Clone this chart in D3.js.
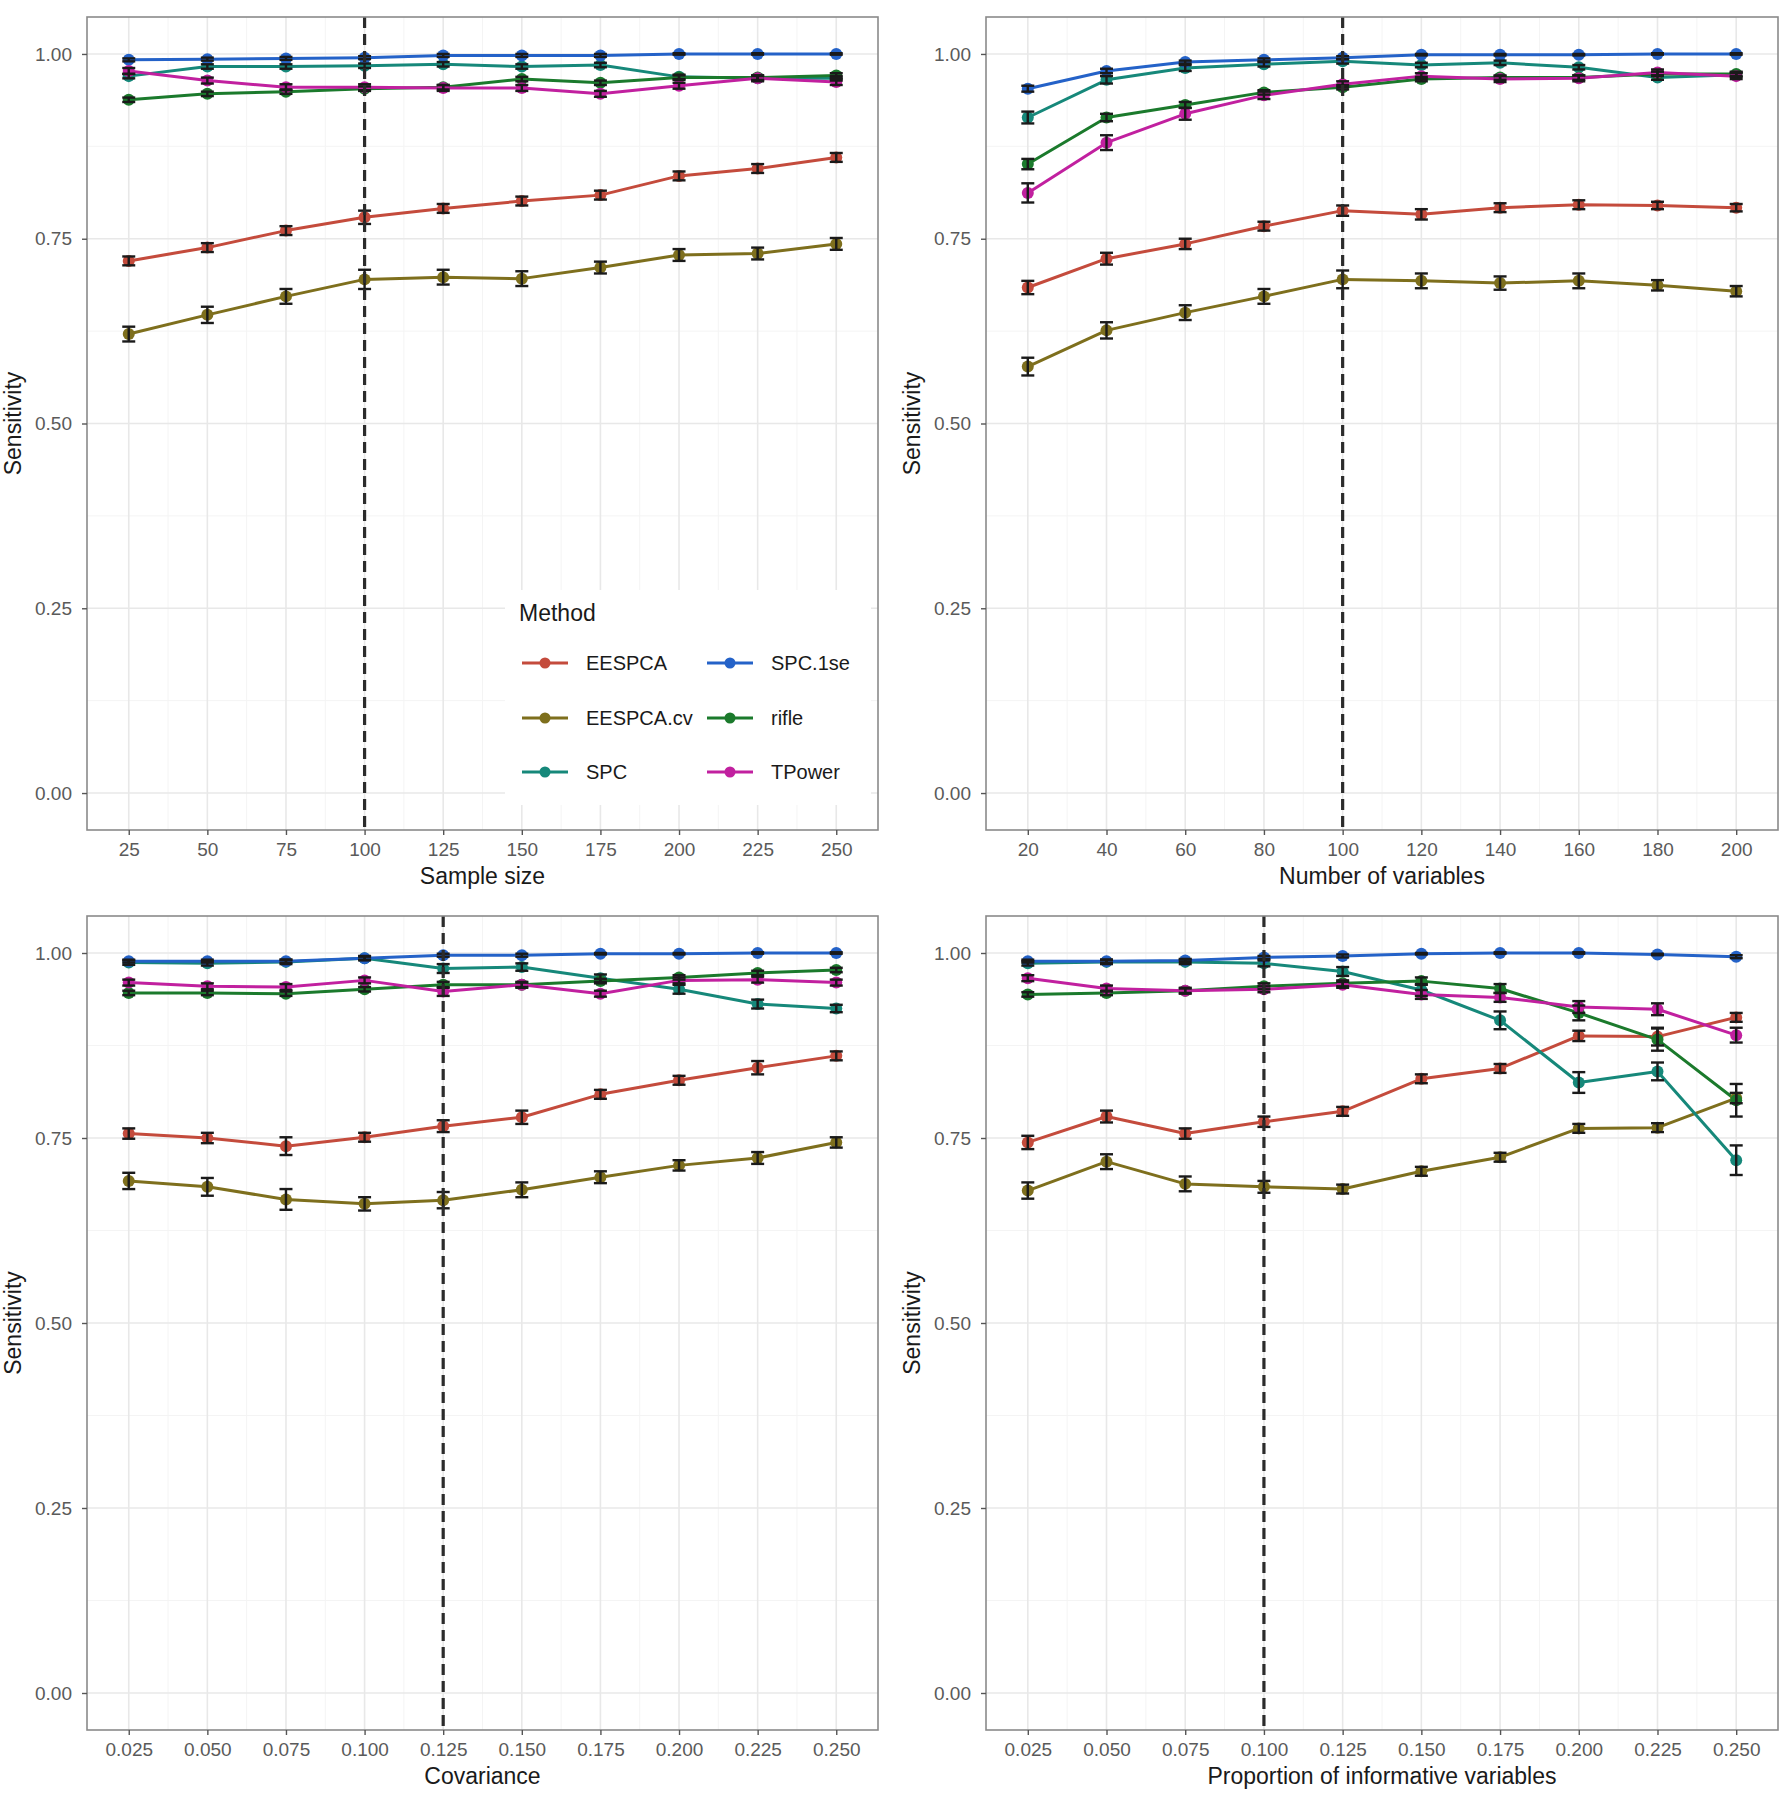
<!DOCTYPE html>
<html><head><meta charset="utf-8">
<script src="https://cdn.jsdelivr.net/npm/d3@7"></script>
<style>body{margin:0;background:#fff}</style></head>
<body>
<svg id="c" width="1782" height="1800"></svg>
<script>
// ---------- DATA ----------
const methods = ["EESPCA", "EESPCA.cv", "SPC", "SPC.1se", "rifle", "TPower"];
const methodColors = ["#C44B3C", "#7E6F1D", "#16887A", "#2462C8", "#1B7A2C", "#C1209F"];

const yTicks = [0, 0.25, 0.5, 0.75, 1.0];

// Panel 1: Sample size
const sampleSizeX = [25, 50, 75, 100, 125, 150, 175, 200, 225, 250];
const sampleSizeRef = 100;
const sampleSizeMean = {
  "EESPCA":    [0.720, 0.738, 0.761, 0.779, 0.791, 0.801, 0.809, 0.835, 0.845, 0.860],
  "EESPCA.cv": [0.621, 0.647, 0.672, 0.695, 0.698, 0.696, 0.711, 0.728, 0.730, 0.743],
  "SPC":       [0.970, 0.983, 0.983, 0.984, 0.986, 0.983, 0.985, 0.969, 0.967, 0.967],
  "SPC.1se":   [0.992, 0.993, 0.994, 0.995, 0.998, 0.998, 0.998, 1.000, 1.000, 1.000],
  "rifle":     [0.938, 0.946, 0.949, 0.953, 0.955, 0.966, 0.961, 0.968, 0.968, 0.971],
  "TPower":    [0.977, 0.964, 0.955, 0.955, 0.954, 0.954, 0.946, 0.957, 0.967, 0.962]
};
const sampleSizeErr = {
  "EESPCA":    [0.006, 0.006, 0.006, 0.009, 0.006, 0.006, 0.006, 0.006, 0.006, 0.006],
  "EESPCA.cv": [0.010, 0.011, 0.010, 0.013, 0.010, 0.010, 0.008, 0.008, 0.008, 0.008],
  "SPC":       [0.003, 0.003, 0.003, 0.003, 0.003, 0.003, 0.003, 0.003, 0.003, 0.003],
  "SPC.1se":   [0.002, 0.002, 0.002, 0.002, 0.002, 0.002, 0.002, 0.001, 0.001, 0.001],
  "rifle":     [0.003, 0.003, 0.003, 0.003, 0.003, 0.003, 0.003, 0.003, 0.003, 0.003],
  "TPower":    [0.004, 0.004, 0.004, 0.004, 0.004, 0.004, 0.004, 0.004, 0.004, 0.004]
};

// Panel 2: Number of variables
const numVarsX = [20, 40, 60, 80, 100, 120, 140, 160, 180, 200];
const numVarsRef = 100;
const numVarsMean = {
  "EESPCA":    [0.684, 0.723, 0.743, 0.767, 0.788, 0.783, 0.792, 0.796, 0.795, 0.792],
  "EESPCA.cv": [0.577, 0.626, 0.650, 0.672, 0.695, 0.693, 0.690, 0.693, 0.687, 0.679],
  "SPC":       [0.914, 0.965, 0.981, 0.986, 0.990, 0.985, 0.988, 0.982, 0.968, 0.972],
  "SPC.1se":   [0.953, 0.977, 0.989, 0.992, 0.995, 0.999, 0.999, 0.999, 1.000, 1.000],
  "rifle":     [0.851, 0.914, 0.931, 0.948, 0.955, 0.966, 0.968, 0.968, 0.973, 0.973],
  "TPower":    [0.812, 0.880, 0.919, 0.944, 0.959, 0.970, 0.966, 0.967, 0.975, 0.970]
};
const numVarsErr = {
  "EESPCA":    [0.009, 0.008, 0.007, 0.006, 0.007, 0.007, 0.006, 0.006, 0.005, 0.005],
  "EESPCA.cv": [0.012, 0.011, 0.010, 0.010, 0.012, 0.010, 0.009, 0.010, 0.007, 0.007],
  "SPC":       [0.008, 0.005, 0.004, 0.003, 0.003, 0.003, 0.003, 0.003, 0.003, 0.003],
  "SPC.1se":   [0.004, 0.003, 0.002, 0.002, 0.002, 0.001, 0.001, 0.001, 0.001, 0.001],
  "rifle":     [0.007, 0.005, 0.004, 0.003, 0.003, 0.003, 0.003, 0.003, 0.003, 0.003],
  "TPower":    [0.013, 0.010, 0.008, 0.005, 0.004, 0.004, 0.004, 0.004, 0.004, 0.004]
};

// Panel 3: Covariance
const covarianceX = [0.025, 0.05, 0.075, 0.1, 0.125, 0.15, 0.175, 0.2, 0.225, 0.25];
const covarianceRef = 0.125;
const covarianceMean = {
  "EESPCA":    [0.756, 0.750, 0.739, 0.751, 0.766, 0.778, 0.809, 0.828, 0.845, 0.861],
  "EESPCA.cv": [0.692, 0.684, 0.667, 0.661, 0.666, 0.680, 0.697, 0.713, 0.723, 0.744],
  "SPC":       [0.987, 0.986, 0.988, 0.993, 0.979, 0.981, 0.966, 0.951, 0.931, 0.925],
  "SPC.1se":   [0.989, 0.989, 0.989, 0.993, 0.997, 0.997, 0.999, 0.999, 1.000, 1.000],
  "rifle":     [0.946, 0.946, 0.945, 0.951, 0.957, 0.957, 0.962, 0.967, 0.973, 0.977],
  "TPower":    [0.960, 0.955, 0.954, 0.963, 0.948, 0.957, 0.945, 0.963, 0.964, 0.960]
};
const covarianceErr = {
  "EESPCA":    [0.007, 0.007, 0.012, 0.006, 0.008, 0.009, 0.006, 0.006, 0.009, 0.006],
  "EESPCA.cv": [0.011, 0.012, 0.014, 0.009, 0.011, 0.010, 0.008, 0.007, 0.008, 0.007],
  "SPC":       [0.003, 0.003, 0.003, 0.003, 0.006, 0.005, 0.005, 0.006, 0.006, 0.005],
  "SPC.1se":   [0.002, 0.002, 0.002, 0.002, 0.002, 0.002, 0.001, 0.001, 0.001, 0.001],
  "rifle":     [0.003, 0.003, 0.003, 0.003, 0.004, 0.003, 0.003, 0.003, 0.003, 0.003],
  "TPower":    [0.004, 0.004, 0.004, 0.004, 0.006, 0.004, 0.004, 0.004, 0.004, 0.004]
};

// Panel 4: Proportion of informative variables
const proportionX = [0.025, 0.05, 0.075, 0.1, 0.125, 0.15, 0.175, 0.2, 0.225, 0.25];
const proportionRef = 0.1;
const proportionMean = {
  "EESPCA":    [0.744, 0.779, 0.756, 0.772, 0.786, 0.830, 0.844, 0.888, 0.887, 0.913],
  "EESPCA.cv": [0.679, 0.718, 0.688, 0.684, 0.681, 0.705, 0.724, 0.763, 0.764, 0.804],
  "SPC":       [0.986, 0.988, 0.988, 0.986, 0.975, 0.950, 0.909, 0.825, 0.840, 0.720],
  "SPC.1se":   [0.989, 0.989, 0.990, 0.994, 0.996, 0.999, 1.000, 1.000, 0.998, 0.995],
  "rifle":     [0.944, 0.946, 0.949, 0.955, 0.959, 0.962, 0.952, 0.919, 0.883, 0.801],
  "TPower":    [0.966, 0.952, 0.949, 0.951, 0.957, 0.944, 0.940, 0.927, 0.924, 0.889]
};
const proportionErr = {
  "EESPCA":    [0.009, 0.008, 0.007, 0.007, 0.006, 0.006, 0.006, 0.007, 0.012, 0.006],
  "EESPCA.cv": [0.011, 0.010, 0.010, 0.008, 0.006, 0.006, 0.006, 0.006, 0.006, 0.007],
  "SPC":       [0.003, 0.003, 0.003, 0.004, 0.006, 0.008, 0.012, 0.014, 0.012, 0.020],
  "SPC.1se":   [0.002, 0.002, 0.002, 0.002, 0.002, 0.001, 0.001, 0.001, 0.001, 0.002],
  "rifle":     [0.003, 0.003, 0.003, 0.004, 0.004, 0.005, 0.006, 0.010, 0.015, 0.022],
  "TPower":    [0.004, 0.004, 0.004, 0.004, 0.004, 0.006, 0.006, 0.008, 0.008, 0.010]
};

const panelTitles = ["Sample size", "Number of variables", "Covariance", "Proportion of informative variables"];

// ---------- DRAW ----------
const svg = d3.select("#c");
const FONT = "'Liberation Sans', Arial, Helvetica, sans-serif";
const color = d3.scaleOrdinal().domain(methods).range(methodColors);

const panels = [
  { box: [87, 878, 17, 830],   xs: sampleSizeX, ref: sampleSizeRef, mean: sampleSizeMean, err: sampleSizeErr, fmt: d3.format("d"),   title: panelTitles[0], legend: true },
  { box: [986, 1778, 17, 830], xs: numVarsX,    ref: numVarsRef,    mean: numVarsMean,    err: numVarsErr,    fmt: d3.format("d"),   title: panelTitles[1] },
  { box: [87, 878, 916, 1730], xs: covarianceX, ref: covarianceRef, mean: covarianceMean, err: covarianceErr, fmt: d3.format(".3f"), title: panelTitles[2] },
  { box: [986, 1778, 916, 1730], xs: proportionX, ref: proportionRef, mean: proportionMean, err: proportionErr, fmt: d3.format(".3f"), title: panelTitles[3] }
];

panels.forEach(p => {
  const [x0, x1, y0, y1] = p.box;
  const xmin = d3.min(p.xs), xmax = d3.max(p.xs), pad = (xmax - xmin) * 0.059;
  const x = d3.scaleLinear().domain([xmin - pad, xmax + pad]).range([x0, x1]);
  const y = d3.scaleLinear().domain([-0.05, 1.05]).range([y1, y0]);
  const g = svg.append("g");

  g.append("rect").attr("x", x0).attr("y", y0).attr("width", x1 - x0).attr("height", y1 - y0).attr("fill", "#fff");

  // minor grid
  const step = p.xs[1] - p.xs[0];
  const xMinor = p.xs.slice(0, -1).map(v => v + step / 2);
  const yMinor = yTicks.slice(0, -1).map(v => v + 0.125);
  g.selectAll(".mx").data(xMinor).enter().append("line")
    .attr("x1", d => x(d)).attr("x2", d => x(d)).attr("y1", y0).attr("y2", y1)
    .attr("stroke", "#F4F4F4").attr("stroke-width", 1);
  g.selectAll(".my").data(yMinor).enter().append("line")
    .attr("y1", d => y(d)).attr("y2", d => y(d)).attr("x1", x0).attr("x2", x1)
    .attr("stroke", "#F4F4F4").attr("stroke-width", 1);
  // major grid
  g.selectAll(".gx").data(p.xs).enter().append("line")
    .attr("x1", d => x(d)).attr("x2", d => x(d)).attr("y1", y0).attr("y2", y1)
    .attr("stroke", "#E8E8E8").attr("stroke-width", 1.6);
  g.selectAll(".gy").data(yTicks).enter().append("line")
    .attr("y1", d => y(d)).attr("y2", d => y(d)).attr("x1", x0).attr("x2", x1)
    .attr("stroke", "#E8E8E8").attr("stroke-width", 1.6);

  // legend (inside panel 1)
  if (p.legend) {
    const lg = g.append("g");
    lg.append("rect").attr("x", 505).attr("y", 590).attr("width", 366).attr("height", 215).attr("fill", "#fff");
    lg.append("text").attr("x", 519).attr("y", 621).text("Method")
      .attr("font-family", FONT).attr("font-size", 23).attr("fill", "#1a1a1a");
    const colX = [545, 730], rowY = [663, 718, 772];
    methods.forEach((m, i) => {
      const cx = colX[Math.floor(i / 3)], cy = rowY[i % 3];
      lg.append("line").attr("x1", cx - 23).attr("x2", cx + 23).attr("y1", cy).attr("y2", cy)
        .attr("stroke", color(m)).attr("stroke-width", 3);
      lg.append("line").attr("x1", cx).attr("x2", cx).attr("y1", cy - 4).attr("y2", cy + 4)
        .attr("stroke", "#222").attr("stroke-width", 1.6);
      lg.append("circle").attr("cx", cx).attr("cy", cy).attr("r", 5.5).attr("fill", color(m));
      lg.append("text").attr("x", cx + 41).attr("y", cy + 7).text(m)
        .attr("font-family", FONT).attr("font-size", 20).attr("fill", "#1a1a1a");
    });
  }

  // series lines
  const line = d3.line().x((d, i) => x(p.xs[i])).y(d => y(d));
  methods.forEach(m => {
    g.append("path").datum(p.mean[m]).attr("d", line)
      .attr("fill", "none").attr("stroke", color(m)).attr("stroke-width", 3)
      .attr("stroke-linejoin", "round");
  });
  // points
  methods.forEach(m => {
    g.selectAll(null).data(p.mean[m]).enter().append("circle")
      .attr("cx", (d, i) => x(p.xs[i])).attr("cy", d => y(d)).attr("r", 6)
      .attr("fill", color(m));
  });
  // error bars
  methods.forEach(m => {
    const eb = g.selectAll(null).data(p.mean[m].map((v, i) => ({ v, e: p.err[m][i], xv: p.xs[i] }))).enter().append("g")
      .attr("stroke", "#1a1a1a").attr("stroke-width", 2.4);
    eb.append("line").attr("x1", d => x(d.xv)).attr("x2", d => x(d.xv))
      .attr("y1", d => y(d.v - d.e)).attr("y2", d => y(d.v + d.e));
    eb.append("line").attr("x1", d => x(d.xv) - 6.5).attr("x2", d => x(d.xv) + 6.5)
      .attr("y1", d => y(d.v - d.e)).attr("y2", d => y(d.v - d.e));
    eb.append("line").attr("x1", d => x(d.xv) - 6.5).attr("x2", d => x(d.xv) + 6.5)
      .attr("y1", d => y(d.v + d.e)).attr("y2", d => y(d.v + d.e));
  });

  // reference dashed line
  g.append("line").attr("x1", x(p.ref)).attr("x2", x(p.ref)).attr("y1", y0).attr("y2", y1)
    .attr("stroke", "#2b2b2b").attr("stroke-width", 3.2).attr("stroke-dasharray", "11,6");

  // border
  g.append("rect").attr("x", x0).attr("y", y0).attr("width", x1 - x0).attr("height", y1 - y0)
    .attr("fill", "none").attr("stroke", "#8a8a8a").attr("stroke-width", 1.6);

  // axes
  const ax = g.append("g").attr("transform", `translate(0,${y1})`)
    .call(d3.axisBottom(x).tickValues(p.xs).tickFormat(p.fmt).tickSize(5).tickPadding(8));
  const ay = g.append("g").attr("transform", `translate(${x0},0)`)
    .call(d3.axisLeft(y).tickValues(yTicks).tickFormat(d3.format(".2f")).tickSize(5).tickPadding(10));
  [ax, ay].forEach(a => {
    a.select(".domain").remove();
    a.selectAll(".tick line").attr("stroke", "#555").attr("stroke-width", 1.4);
    a.selectAll(".tick text").attr("fill", "#5a5a5a").attr("font-size", 19).attr("font-family", FONT);
  });

  // axis titles
  g.append("text").attr("x", (x0 + x1) / 2).attr("y", y1 + 54).attr("text-anchor", "middle")
    .attr("font-family", FONT).attr("font-size", 23).attr("fill", "#1a1a1a").text(p.title);
  g.append("text").attr("transform", `translate(${x0 - 66},${(y0 + y1) / 2}) rotate(-90)`)
    .attr("text-anchor", "middle").attr("font-family", FONT).attr("font-size", 23)
    .attr("fill", "#1a1a1a").text("Sensitivity");
});
</script>
</body></html>
